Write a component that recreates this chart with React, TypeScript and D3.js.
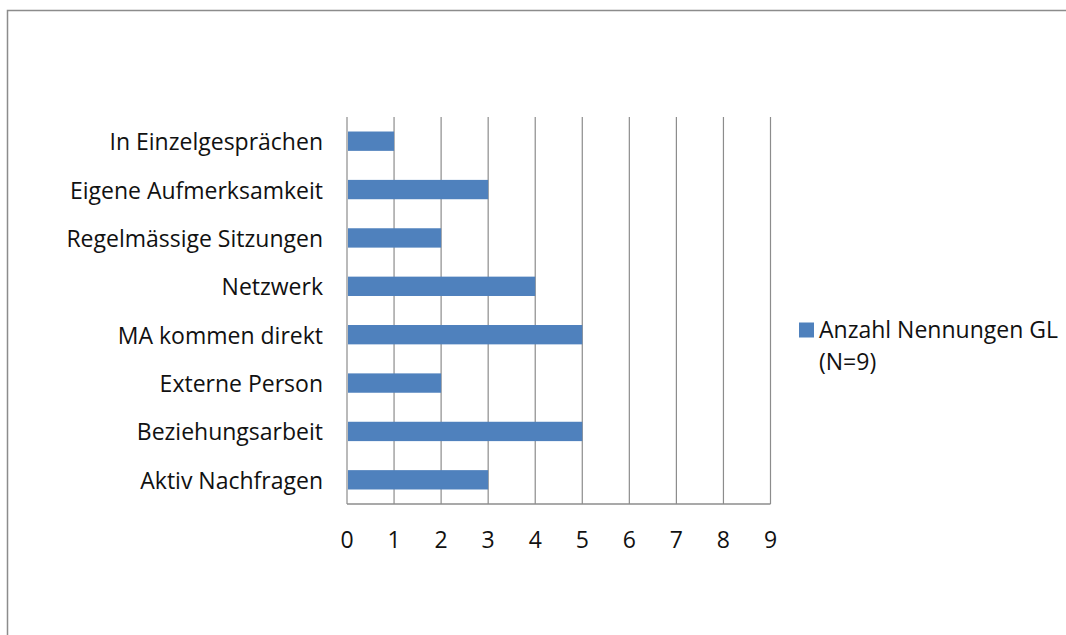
import React, { useEffect, useRef } from "react";
import * as d3 from "d3";

const categories = [
  "In Einzelgesprächen",
  "Eigene Aufmerksamkeit",
  "Regelmässige Sitzungen",
  "Netzwerk",
  "MA kommen direkt",
  "Externe Person",
  "Beziehungsarbeit",
  "Aktiv Nachfragen",
];
const values = [1, 3, 2, 4, 5, 2, 5, 3];
const xTicks = [0, 1, 2, 3, 4, 5, 6, 7, 8, 9];
const legendLines = ["Anzahl Nennungen GL", "(N=9)"];

export default function App() {
  const svgRef = useRef<SVGSVGElement>(null);

  useEffect(() => {
    const width = 1066;
    const height = 635;
    const left = 347;
    const right = 770.5;
    const top = 117;
    const bottom = 504;
    const font = "'Open Sans', sans-serif";
    const fontSize = 23;

    const svg = d3.select(svgRef.current).attr("width", width).attr("height", height);
    svg.selectAll("*").remove();

    svg.append("rect").attr("width", width).attr("height", height).attr("fill", "#fff");
    // chart border: only top and left edges are inside the picture
    svg
      .append("path")
      .attr("d", `M7.5,${height}V10.5H${width}`)
      .attr("fill", "none")
      .attr("stroke", "#8c8c8c")
      .attr("stroke-width", 1.5);

    const x = d3.scaleLinear().domain([0, 9]).range([left, right]);
    const y = d3.scaleBand().domain(categories).range([top, bottom]).paddingInner(0.6).paddingOuter(0.3);

    // vertical gridlines
    svg
      .append("g")
      .selectAll("line")
      .data(xTicks)
      .join("line")
      .attr("x1", (d) => x(d))
      .attr("x2", (d) => x(d))
      .attr("y1", top)
      .attr("y2", bottom)
      .attr("stroke", "#8c8c8c")
      .attr("stroke-width", 1.2);

    // bottom axis line
    svg
      .append("line")
      .attr("x1", left)
      .attr("x2", right)
      .attr("y1", bottom)
      .attr("y2", bottom)
      .attr("stroke", "#8c8c8c")
      .attr("stroke-width", 1.5);

    svg
      .append("g")
      .selectAll("rect")
      .data(values)
      .join("rect")
      .attr("x", x(0) + 1)
      .attr("y", (d, i) => y(categories[i])!)
      .attr("width", (d) => x(d) - x(0) - 1)
      .attr("height", y.bandwidth())
      .attr("fill", "#4f81bd");

    svg
      .append("g")
      .selectAll("text")
      .data(categories)
      .join("text")
      .attr("x", left - 24)
      .attr("y", (d) => y(d)! + y.bandwidth() / 2 + 9)
      .attr("text-anchor", "end")
      .attr("font-family", font)
      .attr("font-size", fontSize)
      .attr("fill", "#111")
      .text((d) => d);

    svg
      .append("g")
      .selectAll("text")
      .data(xTicks)
      .join("text")
      .attr("x", (d) => x(d))
      .attr("y", 548)
      .attr("text-anchor", "middle")
      .attr("font-family", font)
      .attr("font-size", fontSize)
      .attr("fill", "#111")
      .text((d) => d);

    // legend
    svg.append("rect").attr("x", 799).attr("y", 322.5).attr("width", 15).attr("height", 15).attr("fill", "#4f81bd");
    svg
      .append("g")
      .selectAll("text")
      .data(legendLines)
      .join("text")
      .attr("x", 819)
      .attr("y", (d, i) => 337.5 + i * 32)
      .attr("font-family", font)
      .attr("font-size", fontSize)
      .attr("fill", "#111")
      .text((d) => d);
  }, []);

  return (
    <div style={{ position: "absolute", left: 0, top: 0, overflow: "hidden" }}>
      <svg ref={svgRef} style={{ display: "block" }}></svg>
    </div>
  );
}
